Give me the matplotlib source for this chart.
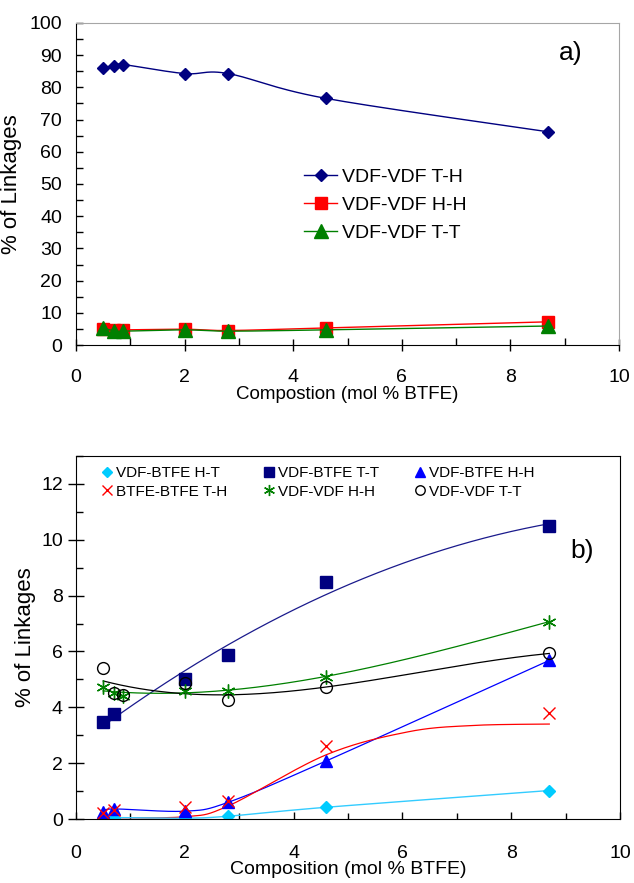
import numpy as np
import matplotlib
matplotlib.use("Agg")
import matplotlib.pyplot as plt
from matplotlib.ticker import MultipleLocator

plt.rcParams["font.family"] = ["Liberation Sans", "DejaVu Sans"]

# ---- panel a: VDF-VDF linkages ----
comp_a = [0.5, 0.7, 0.87, 2.0, 2.8, 4.6, 8.7]
vdf_th_a = [86.1, 86.8, 87.1, 84.3, 84.3, 76.6, 66.2]
vdf_hh_a = [5.0, 4.7, 4.7, 4.9, 4.5, 5.3, 7.2]
vdf_tt_a = [5.3, 4.4, 4.3, 4.7, 4.3, 4.7, 5.9]

# ---- panel b: minor linkages ----
comp_b = [0.5, 0.7, 2.0, 2.8, 4.6, 8.7]
comp_b7 = [0.5, 0.7, 0.87, 2.0, 2.8, 4.6, 8.7]
vb_ht = [0.0, 0.05, 0.03, 0.1, 0.42, 1.02]
vb_tt = [3.47, 3.76, 5.02, 5.87, 8.5, 10.5]
vb_hh = [0.26, 0.36, 0.28, 0.6, 2.08, 5.68]
bb_th = [0.2, 0.33, 0.44, 0.66, 2.6, 3.8]
vv_hh = [4.72, 4.5, 4.4, 4.6, 4.6, 5.1, 7.07]
vv_tt = [5.4, 4.52, 4.44, 4.87, 4.27, 4.73, 5.93]

# trend curve for BTFE-BTFE T-H
bb_th_fit_x = [0.5, 2.0, 2.8, 4.6, 6.1, 7.3, 8.7]
bb_th_fit_y = [0.05, 0.08, 0.47, 2.3, 3.12, 3.35, 3.4]


def smooth_line(x, y, steps=30):
    """Excel style smoothed line (cubic Bezier through every point)."""
    p = np.column_stack([x, y]).astype(float)
    p = np.vstack([p[0], p, p[-1]])
    t = np.linspace(0, 1, steps)[:, None]
    segs = []
    for i in range(1, len(p) - 2):
        p0, p1, p2, p3 = p[i - 1], p[i], p[i + 1], p[i + 2]
        c1 = p1 + (p2 - p0) / 6.0
        c2 = p2 - (p3 - p1) / 6.0
        segs.append((1 - t) ** 3 * p1 + 3 * (1 - t) ** 2 * t * c1
                    + 3 * (1 - t) * t ** 2 * c2 + t ** 3 * p2)
    s = np.vstack(segs)
    return s[:, 0], s[:, 1]


def poly_trend(x, y, deg):
    xs = np.linspace(min(x), max(x), 200)
    return xs, np.polyval(np.polyfit(x, y, deg), xs)


W, H = 634, 883
fig = plt.figure(figsize=(W / 100, H / 100), dpi=100)

# ---------------- panel a ----------------
ax = fig.add_axes([76 / W, 1 - 345 / H, 543 / W, 322 / H])
series_a = [
    (vdf_th_a, "#000080", "D", 6.5, "VDF-VDF T-H"),
    (vdf_hh_a, "#FF0000", "s", 9, "VDF-VDF H-H"),
    (vdf_tt_a, "#008000", "^", 10, "VDF-VDF T-T"),
]
for vals, col, mk, ms, lab in series_a:
    sx, sy = smooth_line(comp_a, vals)
    ax.plot(sx, sy, color=col, lw=1.0)
    ax.plot(comp_a, vals, ls="none", marker=mk, ms=ms, color=col)
    ax.plot([], [], color=col, lw=1.0, marker=mk, ms=ms, label=lab)

ax.set_xlim(0, 10)
ax.set_ylim(0, 100)
ax.xaxis.set_major_locator(MultipleLocator(2))
ax.xaxis.set_minor_locator(MultipleLocator(1))
ax.yaxis.set_major_locator(MultipleLocator(10))
ax.yaxis.set_minor_locator(MultipleLocator(5))
ax.tick_params(axis="x", which="major", direction="inout", length=9, width=1,
               labelsize=14, pad=13)
ax.tick_params(axis="x", which="minor", direction="in", length=5, width=1)
ax.tick_params(axis="y", which="both", direction="in", length=5, width=1,
               labelsize=14, pad=10)
for side in ["top", "right"]:
    ax.spines[side].set_color("#A6A6A6")
ax.set_xlabel("Compostion (mol % BTFE)", fontsize=13.5, labelpad=0)
ax.set_ylabel("% of Linkages", fontsize=16)
ax.yaxis.set_label_coords(-0.099, 0.5)
ax.legend(loc="upper left", bbox_to_anchor=(304 / W, 1 - 168 / H),
          bbox_transform=fig.transFigure, frameon=False, fontsize=14,
          handlelength=1.7, handletextpad=0.25, labelspacing=0.55,
          borderpad=0, borderaxespad=0)
fig.text(571 / W, 1 - 53 / H, "a)", fontsize=19, ha="center", va="center")

# ---------------- panel b ----------------
bx = fig.add_axes([76 / W, 1 - 819 / H, 544 / W, 363 / H])

# trend lines
tx, ty = poly_trend(comp_b, vb_tt, 2)
bx.plot(tx, ty, color="#1A1A8C", lw=0.9)
tx, ty = poly_trend(comp_b7, vv_hh, 3)
bx.plot(tx, ty, color="#008000", lw=0.9)
tx, ty = poly_trend(comp_b7, vv_tt, 3)
bx.plot(tx, ty, color="black", lw=0.9)
sx, sy = smooth_line(comp_b, vb_hh)
bx.plot(sx, sy, color="#0000FF", lw=0.9)
sx, sy = smooth_line(bb_th_fit_x, bb_th_fit_y)
bx.plot(sx, sy, color="#FF0000", lw=0.9)
sx, sy = smooth_line(comp_b, vb_ht)
bx.plot(sx, sy, color="#33CCFF", lw=1.0)

# markers
h_ht, = bx.plot(comp_b, vb_ht, ls="none", marker="D", ms=6, color="#00CCFF",
                label="VDF-BTFE H-T")
h_tt, = bx.plot(comp_b, vb_tt, ls="none", marker="s", ms=8.5, color="#000080",
                label="VDF-BTFE T-T")
h_hh, = bx.plot(comp_b, vb_hh, ls="none", marker="^", ms=9, color="#0000FF",
                label="VDF-BTFE H-H")
h_bb, = bx.plot(comp_b, bb_th, ls="none", marker="x", ms=9, mew=1.0,
                color="#FF0000", label="BTFE-BTFE T-H")
h_vh, = bx.plot(comp_b7, vv_hh, ls="none", marker=(6, 2, 0), ms=10, mew=1.0,
                color="#008000", label="VDF-VDF H-H")
h_vt, = bx.plot(comp_b7, vv_tt, ls="none", marker="o", ms=8.5, mfc="none",
                mec="black", mew=1.0, label="VDF-VDF T-T")

bx.set_xlim(0, 10)
bx.set_ylim(0, 13)
bx.xaxis.set_major_locator(MultipleLocator(2))
bx.xaxis.set_minor_locator(MultipleLocator(1))
bx.yaxis.set_major_locator(MultipleLocator(2))
bx.yaxis.set_minor_locator(MultipleLocator(1))
bx.tick_params(axis="x", which="major", direction="in", length=5, width=1,
               labelsize=14, pad=19)
bx.tick_params(axis="x", which="minor", direction="in", length=4, width=1)
bx.tick_params(axis="y", which="major", direction="inout", length=11, width=1,
               labelsize=14, pad=4)
bx.tick_params(axis="y", which="minor", direction="in", length=5, width=1)
bx.set_xlabel("Composition (mol % BTFE)", fontsize=14, labelpad=-1)
bx.set_ylabel("% of Linkages", fontsize=16)
bx.yaxis.set_label_coords(-0.074, 0.5)
bx.legend(handles=[h_ht, h_bb, h_tt, h_vh, h_hh, h_vt], ncol=3,
          loc="upper left", bbox_to_anchor=(101 / W, 1 - 466 / H),
          bbox_transform=fig.transFigure, frameon=False, fontsize=11,
          handlelength=0.8, handletextpad=0.2, columnspacing=2.3,
          labelspacing=0.3, borderpad=0, borderaxespad=0, markerscale=0.8)
fig.text(582 / W, 1 - 551 / H, "b)", fontsize=19, ha="center", va="center")

fig.savefig("out.png", dpi=100)
